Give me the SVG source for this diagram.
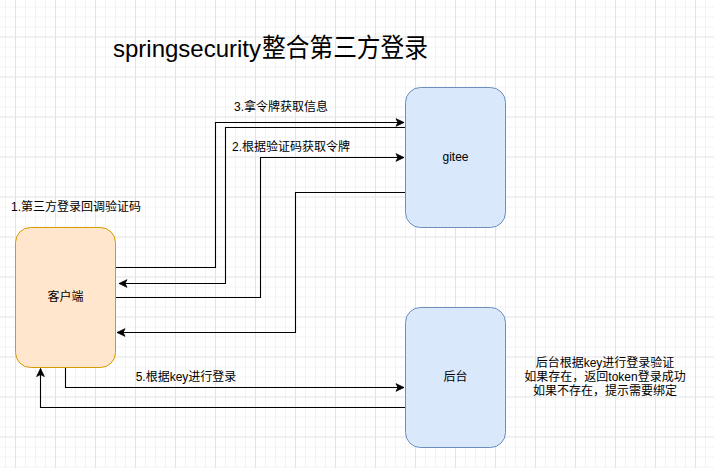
<svg xmlns="http://www.w3.org/2000/svg" width="714" height="468" viewBox="0 0 714 468">
<style>
text{font-family:"Liberation Sans","Noto Sans CJK SC",sans-serif;fill:#000;}
.lbl{font-size:12px;}
.title{font-size:24px;}
.conn{fill:none;stroke:#000;stroke-width:1.1;}
.blue{fill:#dae8fc;stroke:#6c8ebf;stroke-width:1;}
.orange{fill:#ffe6cc;stroke:#d79b00;stroke-width:1;}
</style>
<defs>
<pattern id="grid" patternUnits="userSpaceOnUse" x="15" y="36.5" width="40" height="40">
<path d="M10.5 0V40M20.5 0V40M30.5 0V40M0 10.5H40M0 20.5H40M0 30.5H40" stroke="#f3f3f3" stroke-width="1" fill="none"/>
<path d="M0.5 0V40M0 0.5H40" stroke="#e3e3e3" stroke-width="1" fill="none"/>
</pattern>
<marker id="arr" markerUnits="userSpaceOnUse" markerWidth="10" markerHeight="10" viewBox="0 0 10 10" refX="9" refY="5" orient="auto">
<path d="M1 1.2L9 5L1 8.8L3 5Z" fill="#000" stroke="#000" stroke-width="0.8"/>
</marker>
</defs>
<rect width="714" height="468" fill="#fff"/>
<rect width="714" height="468" fill="url(#grid)"/>
<text class="title" y="57"><tspan x="113" textLength="148" lengthAdjust="spacingAndGlyphs">springsecurity</tspan><tspan x="262" font-size="26" textLength="166" lengthAdjust="spacingAndGlyphs">整合第三方登录</tspan></text>
<g id="connectors">
<path class="conn" d="M116 267.5H215.5V122.5H404" marker-end="url(#arr)"/>
<path class="conn" d="M405 127.5H225.5V283.5H119" marker-end="url(#arr)"/>
<path class="conn" d="M116 297.5H260.5V157.5H404" marker-end="url(#arr)"/>
<path class="conn" d="M405 192.5H295.5V332.5H117" marker-end="url(#arr)"/>
<path class="conn" d="M65.5 367.5V387.5H404" marker-end="url(#arr)"/>
<path class="conn" d="M405 407.5H40.5V368.5" marker-end="url(#arr)"/>
<text class="lbl" x="281" y="111" text-anchor="middle">3.拿令牌获取信息</text>
<text class="lbl" x="291" y="151" text-anchor="middle">2.根据验证码获取令牌</text>
<text class="lbl" x="186" y="381" text-anchor="middle">5.根据key进行登录</text>
</g>
<g id="note1">
<text class="lbl" x="76" y="211" text-anchor="middle">1.第三方登录回调验证码</text>
</g>
<g id="client">
<rect class="orange" x="15.5" y="227.5" width="100" height="140" rx="15" ry="15"/>
<text class="lbl" x="65.5" y="301" text-anchor="middle">客户端</text>
</g>
<g id="gitee">
<rect class="blue" x="405.5" y="87.5" width="100" height="140" rx="15" ry="15"/>
<text class="lbl" x="455.5" y="161" text-anchor="middle">gitee</text>
</g>
<g id="backend">
<rect class="blue" x="405.5" y="307.5" width="100" height="140" rx="15" ry="15"/>
<text class="lbl" x="455.5" y="381" text-anchor="middle">后台</text>
</g>
<g id="note2">
<text class="lbl" text-anchor="middle"><tspan x="605" y="367">后台根据key进行登录验证</tspan><tspan x="605" y="381">如果存在，返回token登录成功</tspan><tspan x="605" y="395">如果不存在，提示需要绑定</tspan></text>
</g>
</svg>
